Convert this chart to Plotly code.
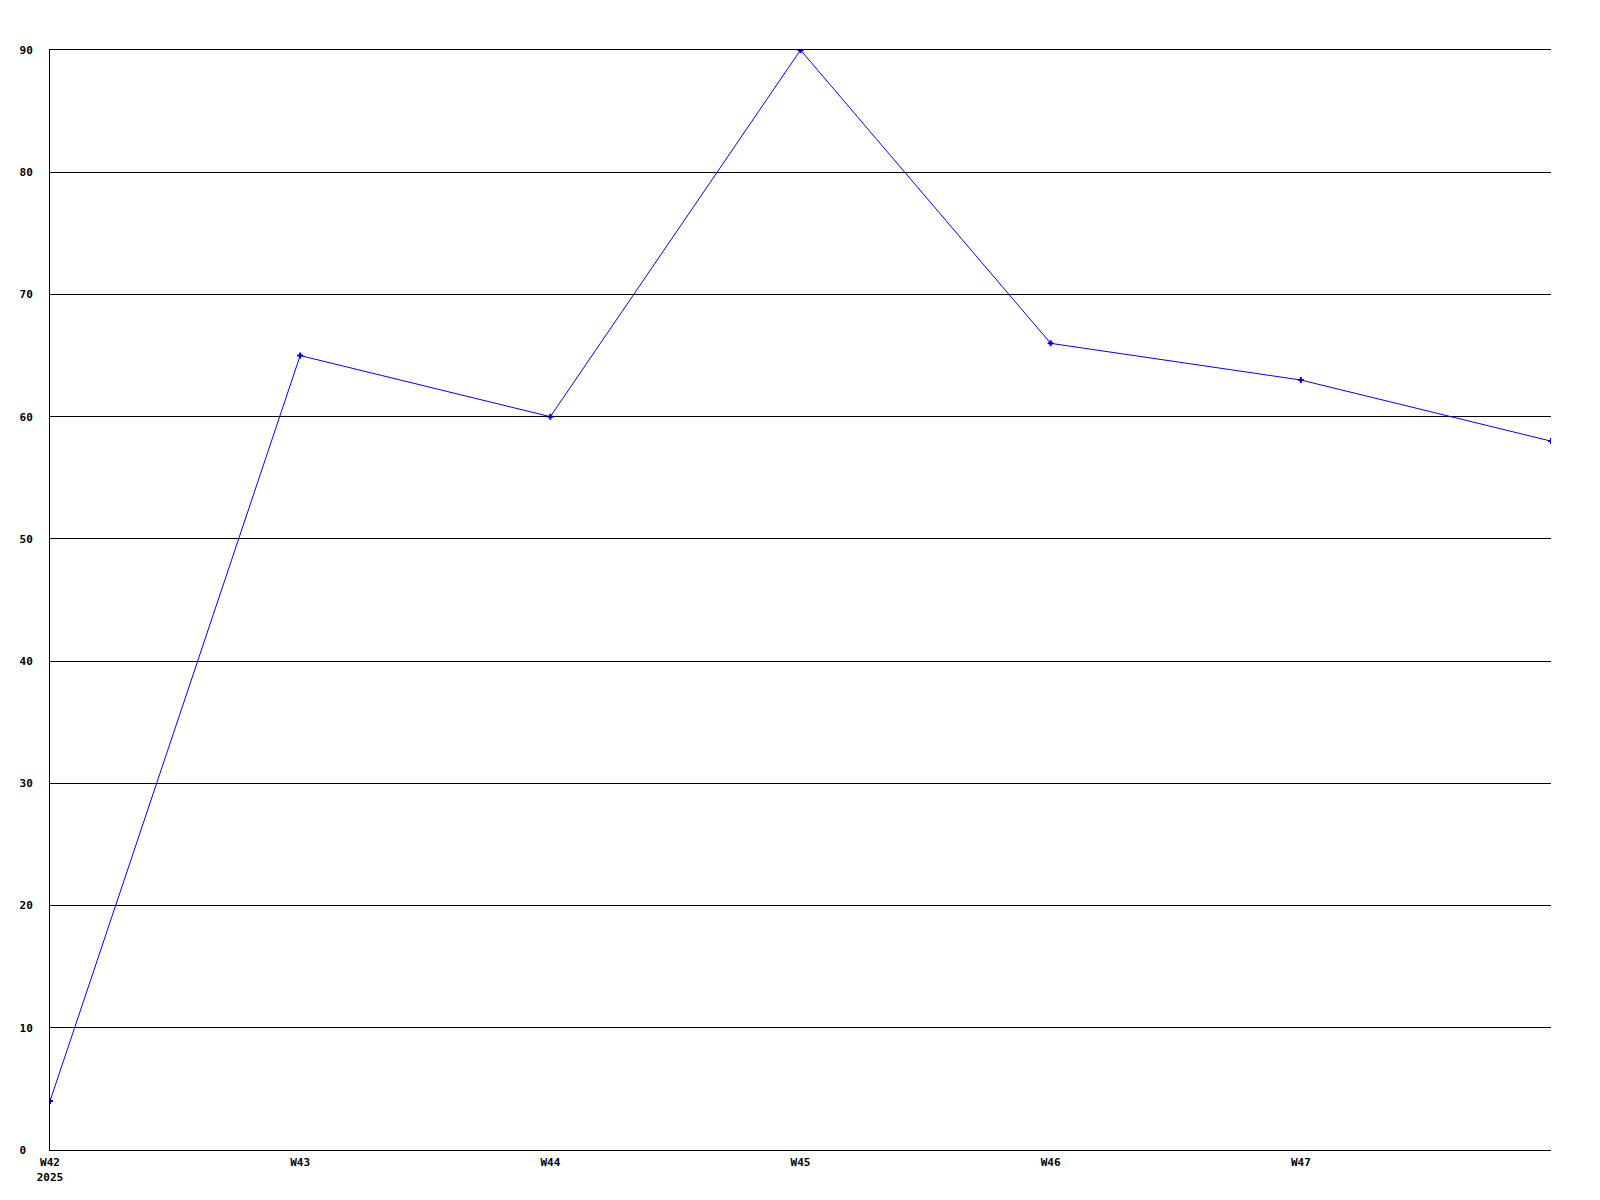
import plotly.graph_objects as go

weeks = ["W42", "W43", "W44", "W45", "W46", "W47", "W48"]
values = [4, 65, 60, 90, 66, 63, 58]
x_tick_labels = ["W42<br>2025", "W43", "W44", "W45", "W46", "W47"]
y_ticks = [0, 10, 20, 30, 40, 50, 60, 70, 80, 90]

x_idx = list(range(len(weeks)))
font = dict(family="DejaVu Sans Mono", size=11, color="black", weight="bold")

fig = go.Figure(go.Scatter(
    x=x_idx, y=values, mode="lines+markers",
    line=dict(color="#0000ff", width=1),
    marker=dict(symbol="cross", size=5, color="#0000cc", line=dict(width=0)),
    text=weeks, hoverinfo="text+y",
))

fig.update_layout(
    width=1600, height=1200,
    margin=dict(l=42, r=57, t=42, b=58),
    paper_bgcolor="white", plot_bgcolor="white",
    showlegend=False,
    font=font,
)
fig.update_xaxes(
    range=[0, len(weeks) - 1],
    tickvals=x_idx[:len(x_tick_labels)], ticktext=x_tick_labels,
    showgrid=False, zeroline=False,
    showline=True, linecolor="black", linewidth=1, mirror=True,
    ticks="", ticklabelstandoff=2, tickfont=font,
)
fig.update_yaxes(
    range=[0, 90],
    tickvals=y_ticks,
    ticktext=[(str(v) + "\u00a0") if v < 10 else str(v) for v in y_ticks],
    showgrid=True, gridcolor="black", gridwidth=1,
    zeroline=False,
    showline=True, linecolor="black", linewidth=1,
    ticks="", ticklabelstandoff=14, tickfont=font,
)

fig.write_html("out.html")
